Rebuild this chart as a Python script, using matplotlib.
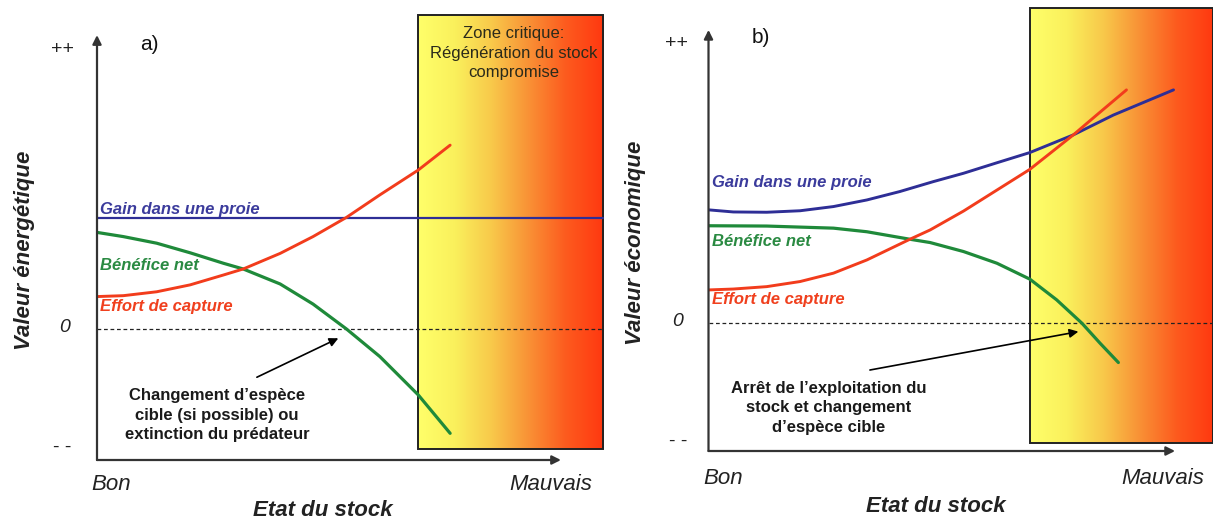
import numpy as np
import matplotlib.pyplot as plt
from matplotlib.colors import LinearSegmentedColormap
from matplotlib.patches import Rectangle

plt.rcParams['font.family'] = ['Liberation Sans', 'DejaVu Sans']

# ---- panel a) : valeur energetique ----
a_gain_x = [0.0, 10.0]
a_gain_y = [3.69, 3.69]
a_benef_x = [0.0, 0.52, 1.18, 1.84, 2.50, 2.89, 3.62, 4.27, 4.93, 5.59, 6.35, 6.98]
a_benef_y = [3.22, 3.08, 2.86, 2.54, 2.19, 2.00, 1.50, 0.83, 0.0, -0.92, -2.20, -3.48]
a_effort_x = [0.0, 0.52, 1.18, 1.84, 2.50, 2.89, 3.62, 4.27, 4.93, 5.59, 6.35, 6.98]
a_effort_y = [1.08, 1.11, 1.24, 1.47, 1.80, 2.00, 2.52, 3.08, 3.72, 4.47, 5.30, 6.13]

# ---- panel b) : valeur economique ----
b_gain_x = [0.0, 0.49, 1.15, 1.81, 2.47, 3.13, 3.78, 4.44, 5.04, 5.70, 6.35, 7.21, 8.00, 9.19]
b_gain_y = [3.78, 3.71, 3.70, 3.75, 3.89, 4.11, 4.39, 4.72, 5.00, 5.35, 5.69, 6.28, 6.94, 7.78]
b_benef_x = [0.0, 1.15, 2.47, 3.13, 3.98, 4.38, 5.04, 5.70, 6.35, 6.88, 7.38, 7.74, 8.10]
b_benef_y = [3.25, 3.24, 3.17, 3.05, 2.80, 2.69, 2.39, 2.00, 1.47, 0.78, 0.0, -0.67, -1.31]
b_effort_x = [0.0, 0.49, 1.15, 1.81, 2.47, 3.13, 3.98, 4.38, 5.04, 5.70, 6.35, 7.21, 7.67, 8.26]
b_effort_y = [1.11, 1.14, 1.22, 1.39, 1.67, 2.11, 2.80, 3.11, 3.74, 4.44, 5.13, 6.28, 6.94, 7.78]

labels = ["Gain dans une proie", "Bénéfice net", "Effort de capture"]
note_a = "Changement d\u2019espèce\ncible (si possible) ou\nextinction du prédateur"
note_b = "Arrêt de l\u2019exploitation du\nstock et changement\nd\u2019espèce cible"
zone_txt = "Zone critique:\nRégénération du stock\ncompromise"

c_blue = '#2e2e96'
c_green = '#1f8a3a'
c_red = '#f23c1c'
c_axis = '#333333'

zone_cmap = LinearSegmentedColormap.from_list(
    'zone', ['#ffff6a', '#faf05c', '#f8c84a', '#f99035', '#fd5a1e', '#ff3810'])

W, H = 1213, 524
fig = plt.figure(figsize=(W / 100, H / 100), dpi=100)


def px(x, y):
    return x / W, 1 - y / H


def panel(rect, xlim, ylim, box, xarrow, yarrow, curves, lab_y, note, note_xy, arr, tag):
    ax = fig.add_axes(rect)
    ax.set_xlim(*xlim)
    ax.set_ylim(*ylim)
    ax.axis('off')

    # critical zone with gradient
    grad = np.linspace(0, 1, 256).reshape(1, -1)
    ax.imshow(grad, cmap=zone_cmap, extent=box, aspect='auto', zorder=0)
    ax.add_patch(Rectangle((box[0], box[2]), box[1] - box[0], box[3] - box[2],
                           fill=False, ec='#222222', lw=1.4, zorder=1))

    # zero line
    ax.plot([0, box[1]], [0, 0], color='#222222', lw=0.9, ls=(0, (3, 2.2)), zorder=2)

    # axes arrows
    ax.annotate('', xy=(xarrow, ylim[0]), xytext=(0, ylim[0]),
                arrowprops=dict(arrowstyle='-|>', color=c_axis, lw=1.6,
                                mutation_scale=13, shrinkA=0, shrinkB=0), zorder=5)
    ax.annotate('', xy=(0, yarrow), xytext=(0, ylim[0]),
                arrowprops=dict(arrowstyle='-|>', color=c_axis, lw=1.6,
                                mutation_scale=13, shrinkA=0, shrinkB=0), zorder=5)

    (gx, gy, gw), (bx, by), (ex, ey) = curves
    ax.plot(gx, gy, color=c_blue, lw=gw, zorder=3, solid_capstyle='round', solid_joinstyle='round')
    ax.plot(bx, by, color=c_green, lw=2.3, zorder=3, solid_capstyle='round', solid_joinstyle='round')
    ax.plot(ex, ey, color=c_red, lw=2.1, zorder=3, solid_capstyle='round', solid_joinstyle='round')

    kw = dict(fontsize=12, fontweight='bold', fontstyle='italic', zorder=4)
    ax.text(0.06, lab_y[0], labels[0], color='#3b3b9c', va='bottom', **kw)
    ax.text(0.06, lab_y[1], labels[1], color='#2a8a42', va='center', **kw)
    ax.text(0.06, lab_y[2], labels[2], color='#f0401e', va='center', **kw)

    ax.text(note_xy[0], note_xy[1], note, ha='center', va='center', fontsize=12,
            fontweight='bold', color='#1a1a1a', linespacing=1.35, zorder=4)
    ax.annotate('', xy=arr[1], xytext=arr[0],
                arrowprops=dict(arrowstyle='-|>', color='black', lw=1.2,
                                mutation_scale=13, shrinkA=0, shrinkB=0), zorder=5)
    ax.text(0.85, ylim[1] - 1.08, tag, fontsize=15, ha='left', va='center', color='#111111')
    return ax


ax_a = panel([97 / W, 1 - 460 / H, 511 / W, 448 / H], (0, 10.1), (-4.37, 10.57),
             [6.34, 10.0, -4.0, 10.47], 9.17, 9.8,
             [(a_gain_x, a_gain_y, 1.6), (a_benef_x, a_benef_y), (a_effort_x, a_effort_y)],
             (3.72, 2.11, 0.74), note_a, (2.37, -2.87), ((3.16, -1.61), (4.77, -0.31)), 'a)')
ax_a.text(8.24, 9.2, zone_txt, ha='center', va='center', fontsize=12,
          color='#2a2a1a', linespacing=1.35, zorder=4)

ax_b = panel([708.5 / W, 1 - 451 / H, 504.5 / W, 446 / H], (0, 9.97), (-4.26, 10.61),
             [6.35, 9.97, -3.99, 10.51], 9.22, 9.78,
             [(b_gain_x, b_gain_y, 2.1), (b_benef_x, b_benef_y), (b_effort_x, b_effort_y)],
             (4.45, 2.71, 0.78), note_b, (2.38, -2.82), ((3.19, -1.56), (7.31, -0.28)), 'b)')

# outer texts
for (x, y), s in [((62, 49), '++'), ((62, 448), '- -'), ((676, 44), '++'), ((678, 441), '- -')]:
    fig.text(*px(x, y), s, ha='center', va='center', fontsize=14, color='#222222')
for (x, y) in [(65, 328), (678, 322)]:
    fig.text(*px(x, y), '0', ha='center', va='center', fontsize=14, fontstyle='italic', color='#222222')

for (x, y), s in [((111, 485), 'Bon'), ((551, 485), 'Mauvais'), ((723, 479), 'Bon'), ((1163, 479), 'Mauvais')]:
    fig.text(*px(x, y), s, ha='center', va='center', fontsize=16, fontstyle='italic', color='#222222')
for (x, y) in [(323, 510), (936, 507)]:
    fig.text(*px(x, y), 'Etat du stock', ha='center', va='center', fontsize=16,
             fontstyle='italic', fontweight='bold', color='#222222')
fig.text(*px(25, 250), 'Valeur énergétique', rotation=90, ha='center', va='center',
         fontsize=16, fontstyle='italic', fontweight='bold', color='#222222')
fig.text(*px(635, 243), 'Valeur économique', rotation=90, ha='center', va='center',
         fontsize=16, fontstyle='italic', fontweight='bold', color='#222222')

fig.savefig('out.png', dpi=100)
